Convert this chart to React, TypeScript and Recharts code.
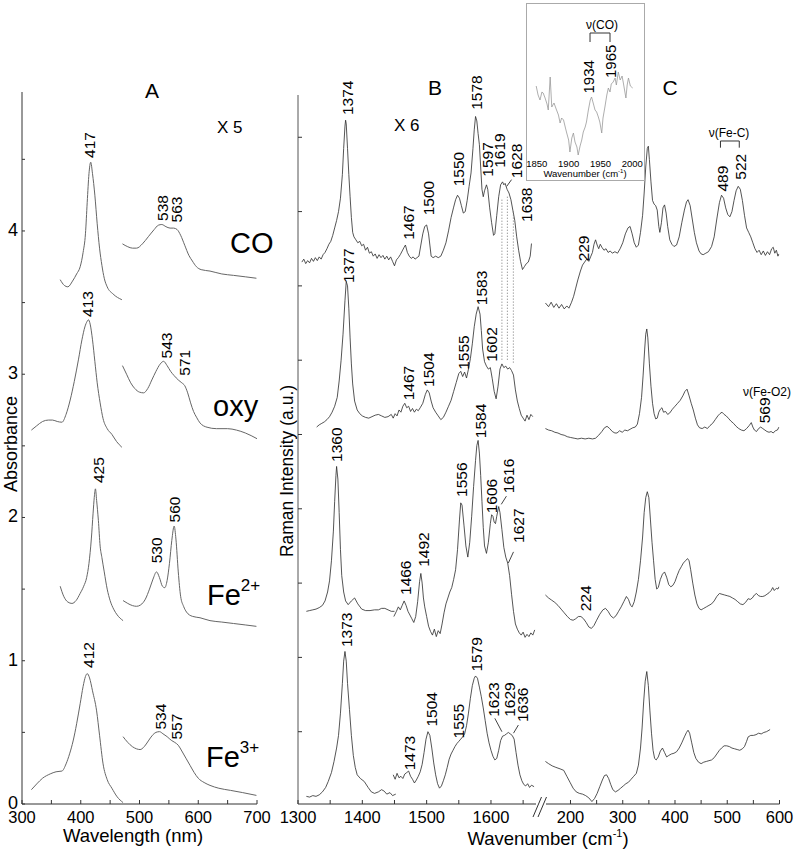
import { LineChart, Line, XAxis, YAxis, ReferenceDot, ReferenceLine } from "recharts";

type Pt = [number, number];
type PeakLabel = [number, number, string];

// ---- Panel A: UV-vis absorbance (Soret band and Q bands x5) ----
const absCoSoret: Pt[] = [[365,3.66],[372,3.62],[378,3.61],[386,3.65],[393,3.70],[399,3.75],[404,3.85],[408,3.98],[411,4.20],[414,4.40],[417,4.48],[420,4.40],[424,4.25],[428,4.05],[432,3.88],[436,3.76],[440,3.67],[445,3.61],[455,3.56],[470,3.52]];
const absCoQ: Pt[] = [[471,3.91],[480,3.89],[488,3.88],[495,3.88],[505,3.91],[515,3.96],[525,4.01],[532,4.04],[538,4.045],[545,4.03],[552,4.02],[558,4.02],[564,4.01],[570,3.97],[577,3.90],[584,3.83],[590,3.79],[597,3.75],[605,3.73],[620,3.72],[640,3.70],[660,3.69],[680,3.68],[699,3.67]];
const absOxySoret: Pt[] = [[316,2.61],[325,2.64],[335,2.67],[345,2.68],[352,2.68],[360,2.67],[368,2.665],[375,2.72],[382,2.82],[389,2.95],[396,3.10],[402,3.24],[407,3.33],[411,3.37],[413,3.38],[416,3.35],[420,3.24],[424,3.09],[428,2.94],[433,2.80],[438,2.69],[445,2.62],[453,2.58],[461,2.53],[470,2.49]];
const absOxyQ: Pt[] = [[471,3.06],[478,3.00],[485,2.94],[492,2.90],[500,2.875],[507,2.87],[514,2.90],[521,2.96],[528,3.02],[535,3.07],[541,3.09],[547,3.06],[553,3.02],[559,2.99],[566,2.96],[572,2.94],[577,2.92],[582,2.87],[587,2.80],[592,2.74],[597,2.70],[603,2.66],[615,2.63],[631,2.62],[650,2.62],[665,2.61],[680,2.59],[700,2.55]];
const absFe2Soret: Pt[] = [[365,1.52],[371,1.45],[378,1.41],[385,1.40],[392,1.42],[399,1.47],[405,1.52],[410,1.58],[414,1.68],[418,1.85],[421,2.03],[423,2.14],[425,2.20],[427,2.12],[430,1.98],[433,1.80],[436,1.72],[440,1.62],[445,1.50],[450,1.42],[456,1.36],[462,1.32],[472,1.28]];
const absFe2Q: Pt[] = [[472,1.42],[480,1.40],[488,1.385],[495,1.38],[502,1.39],[510,1.43],[517,1.50],[523,1.57],[529,1.62],[534,1.58],[539,1.52],[543,1.51],[547,1.56],[551,1.68],[555,1.84],[559,1.94],[562,1.85],[566,1.62],[570,1.45],[575,1.38],[580,1.34],[590,1.31],[603,1.30],[620,1.28],[640,1.27],[660,1.26],[680,1.25],[699,1.24]];
const absFe3Soret: Pt[] = [[316,0.10],[325,0.14],[335,0.18],[348,0.21],[358,0.225],[368,0.23],[375,0.28],[381,0.35],[387,0.44],[393,0.56],[399,0.70],[404,0.82],[408,0.89],[411,0.91],[415,0.88],[420,0.79],[427,0.65],[432,0.48],[438,0.28],[445,0.17],[453,0.11],[462,0.05],[472,0.01]];
const absFe3Q: Pt[] = [[472,0.47],[480,0.43],[488,0.40],[495,0.385],[501,0.38],[508,0.40],[515,0.44],[522,0.48],[528,0.50],[534,0.505],[540,0.49],[547,0.47],[554,0.445],[560,0.43],[566,0.41],[572,0.37],[579,0.32],[586,0.27],[593,0.22],[600,0.18],[610,0.15],[620,0.13],[635,0.11],[655,0.095],[675,0.08],[699,0.06]];

const absPeaks: PeakLabel[] = [
  [415.7,4.51,"417"],[540,4.07,"538"],[563.8,4.06,"563"],
  [412.3,3.40,"413"],[546,3.11,"543"],[577.4,2.99,"571"],
  [430,2.24,"425"],[529,1.68,"530"],[560,1.965,"560"],
  [413,0.95,"412"],[535,0.52,"534"],[563,0.45,"557"],
];
const absTicksX = [300,350,400,450,500,550,600,650,700];
const absLabelsX = [300,400,500,600,700];
const absTicksY = [0,0.5,1,1.5,2,2.5,3,3.5,4,4.5];
const absLabelsY = [0,1,2,3,4];

// ---- Panel B: high-frequency Raman (arbitrary units, stacked) ----
const ramCoHigh: Pt[] = [[1306,7.32],[1309,7.36],[1312,7.30],[1315,7.34],[1318,7.31],[1321,7.37],[1324,7.33],[1327,7.38],[1330,7.34],[1333,7.39],[1336,7.36],[1339,7.42],[1342,7.45],[1345,7.50],[1348,7.56],[1351,7.60],[1354,7.68],[1357,7.78],[1360,7.88],[1363,8.00],[1366,8.18],[1369,8.50],[1371,8.85],[1373,9.15],[1374,9.23],[1375,9.18],[1377,8.85],[1379,8.50],[1381,8.20],[1383,7.92],[1385,7.72],[1387,7.66],[1390,7.62],[1393,7.58],[1396,7.60],[1399,7.54],[1402,7.56],[1405,7.48],[1408,7.52],[1411,7.44],[1414,7.46],[1417,7.40],[1420,7.43],[1423,7.37],[1426,7.42],[1429,7.38],[1432,7.41],[1435,7.36],[1438,7.40],[1441,7.35],[1444,7.39],[1447,7.33],[1450,7.27],[1453,7.35],[1456,7.38],[1459,7.42],[1462,7.47],[1465,7.52],[1467,7.55],[1470,7.45],[1473,7.40],[1476,7.37],[1479,7.39],[1482,7.36],[1485,7.38],[1488,7.40],[1491,7.55],[1494,7.70],[1497,7.80],[1500,7.82],[1503,7.70],[1505,7.55],[1507,7.40],[1510,7.38],[1514,7.40],[1518,7.38],[1522,7.40],[1526,7.48],[1530,7.58],[1534,7.74],[1538,7.92],[1542,8.06],[1545,8.16],[1548,8.22],[1551,8.18],[1554,8.08],[1557,7.98],[1560,8.00],[1563,8.15],[1566,8.34],[1569,8.52],[1572,8.85],[1574,9.10],[1576,9.28],[1578,9.22],[1580,9.05],[1582,8.90],[1584,8.60],[1586,8.30],[1588,8.20],[1590,8.28],[1593,8.36],[1595,8.30],[1598,8.05],[1601,7.85],[1604,7.68],[1606,7.70],[1609,7.95],[1612,8.20],[1615,8.36],[1618,8.40],[1620,8.36],[1622,8.38],[1625,8.30],[1628,8.25],[1631,8.16],[1634,8.02],[1637,7.88],[1640,7.66],[1643,7.48],[1646,7.33],[1649,7.22],[1652,7.26],[1655,7.30],[1658,7.32],[1661,7.40],[1663,7.57]];
const ramOxyHigh: Pt[] = [[1329,5.10],[1333,5.13],[1337,5.15],[1341,5.17],[1345,5.20],[1349,5.24],[1353,5.30],[1357,5.38],[1361,5.50],[1364,5.72],[1367,6.00],[1370,6.35],[1373,6.80],[1375,7.06],[1377,7.00],[1379,6.70],[1381,6.30],[1383,5.95],[1385,5.68],[1388,5.45],[1392,5.33],[1396,5.28],[1400,5.25],[1405,5.23],[1410,5.22],[1415,5.24],[1420,5.26],[1425,5.27],[1430,5.25],[1435,5.23],[1440,5.24],[1445,5.27],[1448,5.22],[1451,5.28],[1454,5.25],[1457,5.33],[1460,5.30],[1463,5.38],[1466,5.42],[1469,5.36],[1472,5.38],[1475,5.31],[1478,5.35],[1481,5.30],[1484,5.34],[1487,5.32],[1490,5.36],[1494,5.42],[1498,5.54],[1501,5.60],[1504,5.56],[1507,5.45],[1510,5.36],[1514,5.30],[1518,5.25],[1522,5.20],[1526,5.23],[1530,5.30],[1534,5.38],[1538,5.46],[1542,5.58],[1546,5.70],[1550,5.82],[1553,5.85],[1556,5.78],[1559,5.84],[1562,5.76],[1565,5.88],[1568,6.02],[1571,6.22],[1574,6.45],[1577,6.62],[1580,6.72],[1583,6.62],[1585,6.40],[1587,6.15],[1590,5.98],[1593,5.92],[1596,5.88],[1599,5.90],[1602,5.75],[1605,5.58],[1608,5.48],[1611,5.65],[1614,5.88],[1617,5.95],[1620,5.90],[1623,5.92],[1626,5.88],[1629,5.90],[1632,5.86],[1635,5.80],[1638,5.60],[1641,5.45],[1644,5.35],[1647,5.26],[1650,5.22],[1653,5.18],[1656,5.26],[1659,5.20],[1662,5.27],[1665,5.24]];
const ramFe2Low: Pt[] = [[1313,2.62],[1318,2.63],[1323,2.64],[1328,2.65],[1333,2.67],[1338,2.70],[1342,2.76],[1346,2.88],[1349,3.03],[1352,3.30],[1355,3.70],[1357,4.10],[1359,4.45],[1360,4.57],[1362,4.40],[1364,3.95],[1366,3.45],[1368,3.10],[1371,2.88],[1374,2.76],[1378,2.71],[1383,2.76],[1388,2.80],[1393,2.72],[1399,2.65],[1405,2.63],[1412,2.63],[1419,2.64],[1425,2.64],[1430,2.66],[1435,2.66],[1440,2.64],[1445,2.62],[1450,2.62]];
const ramFe2High: Pt[] = [[1449,2.55],[1453,2.62],[1456,2.68],[1459,2.64],[1462,2.70],[1465,2.76],[1468,2.70],[1471,2.62],[1474,2.57],[1477,2.52],[1480,2.47],[1483,2.55],[1486,2.75],[1489,3.02],[1491,3.13],[1493,3.00],[1495,2.80],[1497,2.68],[1500,2.55],[1503,2.42],[1506,2.35],[1509,2.30],[1512,2.38],[1515,2.28],[1518,2.36],[1521,2.32],[1524,2.45],[1527,2.60],[1530,2.72],[1533,2.80],[1536,2.88],[1539,2.94],[1542,3.05],[1545,3.18],[1548,3.45],[1551,3.85],[1553,4.08],[1555,4.05],[1558,3.78],[1561,3.50],[1564,3.35],[1567,3.55],[1570,3.90],[1573,4.30],[1576,4.65],[1578,4.85],[1580,4.92],[1582,4.75],[1584,4.45],[1586,4.10],[1588,3.75],[1590,3.50],[1593,3.40],[1596,3.55],[1599,3.80],[1601,3.92],[1603,3.90],[1605,3.82],[1607,3.80],[1609,3.90],[1612,4.03],[1614,3.95],[1617,3.72],[1620,3.48],[1623,3.35],[1626,3.27],[1629,3.10],[1632,2.85],[1635,2.62],[1638,2.45],[1641,2.38],[1644,2.33],[1647,2.30],[1650,2.34],[1653,2.27],[1656,2.31],[1659,2.28],[1662,2.33],[1665,2.30],[1668,2.37]];
const ramFe3Low: Pt[] = [[1313,0.13],[1318,0.12],[1323,0.14],[1328,0.13],[1333,0.15],[1338,0.19],[1343,0.25],[1347,0.33],[1352,0.45],[1356,0.60],[1360,0.78],[1363,0.95],[1366,1.25],[1369,1.65],[1371,1.95],[1373,2.08],[1375,1.95],[1377,1.65],[1380,1.30],[1383,0.95],[1386,0.68],[1389,0.52],[1392,0.42],[1397,0.37],[1403,0.33],[1409,0.25],[1414,0.19],[1419,0.17],[1425,0.19],[1430,0.22],[1434,0.20],[1438,0.16],[1443,0.18],[1447,0.14],[1452,0.16]];
const ramFe3High: Pt[] = [[1448,0.42],[1451,0.36],[1454,0.44],[1457,0.38],[1460,0.40],[1463,0.37],[1466,0.43],[1469,0.45],[1472,0.47],[1475,0.40],[1478,0.36],[1481,0.31],[1484,0.35],[1487,0.40],[1490,0.46],[1493,0.56],[1496,0.72],[1499,0.90],[1502,1.00],[1505,0.95],[1508,0.78],[1511,0.58],[1514,0.42],[1517,0.30],[1520,0.24],[1523,0.27],[1526,0.34],[1529,0.42],[1532,0.52],[1535,0.63],[1538,0.70],[1541,0.75],[1544,0.80],[1547,0.84],[1550,0.87],[1553,0.90],[1556,0.93],[1559,0.97],[1562,1.08],[1565,1.25],[1568,1.45],[1571,1.62],[1574,1.72],[1576,1.75],[1579,1.72],[1582,1.60],[1585,1.47],[1588,1.32],[1591,1.15],[1594,0.98],[1597,0.85],[1600,0.75],[1603,0.67],[1606,0.62],[1609,0.64],[1612,0.75],[1615,0.88],[1618,0.94],[1621,0.95],[1624,0.97],[1627,0.99],[1630,0.97],[1633,0.95],[1636,0.90],[1639,0.72],[1642,0.55],[1645,0.42],[1648,0.34],[1651,0.29],[1654,0.27],[1657,0.30],[1660,0.25],[1663,0.28],[1667,0.26]];

const ramHighPeaks: PeakLabel[] = [
  [1377,9.30,"1374"],[1471.5,7.62,"1467"],[1502.6,7.95,"1500"],[1549,8.34,"1550"],[1578,9.37,"1578"],[1595,8.47,"1597"],[1614,8.59,"1619"],[1640,8.45,"1628"],[1655.7,7.86,"1638"],
  [1378,7.04,"1377"],[1471.5,5.46,"1467"],[1502.6,5.64,"1504"],[1557,5.87,"1555"],[1585.7,6.74,"1583"],[1601,5.98,"1602"],
  [1360,4.63,"1360"],[1466.4,2.84,"1466"],[1495,3.22,"1492"],[1554.6,4.16,"1556"],[1583,4.95,"1584"],[1601,3.94,"1606"],[1627,4.21,"1616"],[1642.6,3.54,"1627"],
  [1375.7,2.14,"1373"],[1474,0.48,"1473"],[1508,1.07,"1504"],[1549,0.91,"1555"],[1578,1.81,"1579"],[1603.7,1.20,"1623"],[1628.6,1.20,"1629"],[1649.4,1.13,"1636"],
];
const ramHighTicksX = [1300,1350,1400,1450,1500,1550,1600,1650];
const ramHighLabelsX = [1300,1400,1500,1600];
const ramTicksY = [1,2,3,4,5,6,7,8,9];

// ---- Panel C: low-frequency Raman ----
const ramCoLow: Pt[] = [[152,6.77],[158,6.72],[163,6.78],[168,6.71],[173,6.76],[178,6.70],[183,6.75],[188,6.69],[193,6.73],[197,6.70],[202,6.78],[206,6.86],[210,6.97],[214,7.08],[219,7.20],[223,7.28],[227,7.32],[231,7.36],[235,7.33],[239,7.40],[242,7.45],[245,7.56],[248,7.62],[251,7.55],[254,7.50],[257,7.56],[260,7.52],[264,7.48],[268,7.50],[272,7.45],[276,7.47],[280,7.44],[285,7.46],[290,7.44],[295,7.50],[300,7.58],[305,7.70],[310,7.78],[314,7.80],[318,7.70],[322,7.58],[326,7.52],[330,7.55],[334,7.72],[338,7.95],[341,8.25],[344,8.60],[347,8.85],[349,8.88],[351,8.70],[354,8.40],[357,8.15],[360,8.10],[363,8.08],[366,8.02],[369,7.80],[371,7.72],[374,7.85],[377,8.05],[380,8.09],[383,7.98],[386,7.80],[390,7.62],[394,7.56],[398,7.53],[403,7.55],[408,7.66],[413,7.85],[418,8.02],[422,8.13],[425,8.16],[429,8.08],[433,7.90],[437,7.72],[441,7.58],[446,7.47],[450,7.43],[454,7.42],[459,7.44],[464,7.46],[470,7.53],[475,7.66],[480,7.90],[485,8.12],[489,8.22],[493,8.18],[497,8.05],[501,7.96],[505,7.93],[509,8.00],[513,8.15],[517,8.28],[521,8.34],[525,8.30],[529,8.15],[533,7.95],[537,7.78],[541,7.72],[545,7.66],[549,7.58],[553,7.50],[557,7.45],[561,7.48],[565,7.42],[569,7.47],[573,7.41],[577,7.46],[581,7.42],[585,7.50],[588,7.52],[591,7.44],[594,7.48],[597,7.40],[599,7.43]];
const ramOxyLow: Pt[] = [[152,5.08],[158,5.06],[164,5.05],[170,5.03],[176,5.02],[182,5.00],[188,4.99],[194,4.97],[200,4.96],[207,4.95],[214,4.94],[221,4.95],[228,4.94],[235,4.95],[242,4.94],[248,4.95],[254,4.99],[260,5.04],[265,5.09],[270,5.11],[275,5.08],[280,5.04],[285,5.02],[289,5.02],[294,5.05],[299,5.03],[304,5.06],[309,5.05],[314,5.07],[319,5.09],[324,5.10],[328,5.14],[332,5.28],[336,5.50],[339,5.80],[342,6.15],[344,6.35],[346,6.42],[348,6.30],[351,5.95],[354,5.65],[357,5.42],[360,5.28],[363,5.21],[366,5.22],[369,5.30],[372,5.34],[375,5.36],[378,5.30],[382,5.31],[386,5.27],[390,5.29],[395,5.34],[400,5.38],[405,5.42],[410,5.46],[415,5.52],[419,5.58],[423,5.61],[427,5.52],[431,5.42],[435,5.33],[439,5.22],[443,5.13],[447,5.09],[452,5.08],[457,5.10],[462,5.08],[467,5.12],[472,5.15],[477,5.20],[482,5.25],[486,5.28],[490,5.30],[494,5.27],[498,5.25],[502,5.22],[507,5.18],[512,5.15],[517,5.11],[522,5.08],[527,5.06],[532,5.05],[537,5.08],[542,5.12],[546,5.16],[549,5.10],[552,5.06],[556,5.04],[560,5.08],[564,5.10],[568,5.08],[572,5.06],[576,5.04],[580,5.03],[584,5.04],[588,5.02],[592,5.05],[596,5.06],[599,5.10]];
const ramFe2Lf: Pt[] = [[152,2.84],[158,2.80],[164,2.77],[170,2.74],[176,2.70],[182,2.65],[188,2.60],[194,2.55],[200,2.51],[205,2.50],[210,2.52],[215,2.55],[220,2.55],[225,2.52],[230,2.47],[235,2.41],[240,2.39],[245,2.43],[250,2.50],[256,2.58],[262,2.64],[267,2.66],[272,2.62],[277,2.56],[282,2.53],[287,2.56],[292,2.62],[297,2.68],[302,2.75],[307,2.82],[311,2.78],[315,2.70],[318,2.68],[322,2.75],[326,2.88],[330,3.05],[334,3.30],[338,3.62],[341,3.95],[344,4.15],[347,4.23],[350,4.15],[353,3.85],[356,3.55],[359,3.30],[362,3.05],[365,2.92],[368,2.94],[372,3.05],[376,3.12],[380,3.15],[384,3.08],[388,2.98],[392,2.95],[396,2.97],[400,3.02],[404,3.10],[408,3.17],[412,3.22],[416,3.27],[420,3.30],[424,3.33],[427,3.30],[430,3.18],[434,3.00],[438,2.84],[442,2.72],[446,2.66],[450,2.64],[455,2.66],[460,2.68],[465,2.70],[470,2.72],[475,2.76],[480,2.82],[485,2.86],[490,2.85],[495,2.84],[500,2.83],[505,2.82],[510,2.80],[515,2.78],[520,2.75],[525,2.72],[530,2.71],[535,2.74],[540,2.79],[544,2.78],[548,2.80],[552,2.84],[556,2.86],[560,2.83],[564,2.82],[568,2.82],[572,2.83],[576,2.85],[580,2.87],[584,2.90],[587,2.94],[590,2.90],[594,2.93],[597,2.92],[599,2.95]];
const ramFe3Lf: Pt[] = [[152,0.60],[158,0.57],[165,0.54],[172,0.52],[180,0.50],[187,0.48],[193,0.40],[199,0.32],[205,0.24],[211,0.19],[217,0.17],[223,0.16],[229,0.14],[235,0.11],[241,0.06],[246,0.10],[251,0.17],[256,0.26],[261,0.35],[265,0.41],[269,0.42],[273,0.37],[277,0.29],[281,0.22],[286,0.19],[291,0.21],[296,0.24],[301,0.27],[306,0.30],[311,0.32],[316,0.36],[321,0.40],[326,0.44],[330,0.55],[334,0.78],[337,1.05],[340,1.40],[343,1.68],[346,1.81],[349,1.62],[352,1.28],[355,0.98],[358,0.75],[361,0.64],[364,0.62],[368,0.66],[372,0.74],[376,0.78],[380,0.72],[384,0.66],[388,0.68],[393,0.70],[398,0.71],[403,0.73],[408,0.78],[413,0.85],[418,0.93],[422,0.99],[425,1.02],[428,0.98],[432,0.85],[436,0.72],[440,0.64],[445,0.59],[450,0.57],[455,0.59],[460,0.60],[465,0.61],[470,0.62],[475,0.65],[480,0.70],[485,0.75],[489,0.78],[494,0.81],[499,0.81],[504,0.80],[509,0.78],[514,0.77],[519,0.76],[524,0.75],[529,0.77],[533,0.80],[537,0.87],[540,0.93],[545,0.95],[550,0.95],[555,0.96],[560,0.98],[565,0.97],[570,0.99],[575,1.00],[580,1.02],[582,1.03]];

const ramLowPeaks: PeakLabel[] = [
  [224.5,7.33,"229"],[491,8.27,"489"],[525.7,8.43,"522"],[572,5.15,"569"],[227.8,2.62,"224"],
];
const ramLowTicksX = [200,250,300,350,400,450,500,550,600];
const ramLowLabelsX = [200,300,400,500,600];

// ---- Inset: nu(CO) region ----
const insetCo: Pt[] = [[1849,69],[1852,60],[1855,55],[1858,63],[1860,62],[1863,57],[1866,51],[1868,45],[1871,78],[1873.5,48],[1877,52],[1881,45],[1884,40],[1886.6,32],[1889,37],[1892,35],[1895,27],[1897,22],[1900,15],[1902,3],[1905,17],[1907.5,22],[1910,13],[1913,8],[1915,0],[1918,9],[1920.6,15],[1923,23],[1926,28],[1928,33],[1931,45],[1934,55],[1936,58],[1939,51],[1941.5,45],[1944,43],[1946.7,38],[1949,33],[1952,22],[1954,37],[1957,48],[1960,60],[1962.4,67],[1965,63],[1967,71],[1970,73],[1973,77],[1975,70],[1978,83],[1981,75],[1984,79],[1986,72],[1990,57],[1992,70],[1994,77],[1997,69],[2000.7,67]];
const insetPeaks: PeakLabel[] = [[1931,61.5,"1934"],[1965,77,"1965"]];
const insetTicksX = [1850,1900,1950,2000];

const rows = (arr: Pt[]) => arr.map(([x, y]) => ({ x, y }));

const FONT = '"Liberation Sans", Arial, sans-serif';

function bottomTick(labels: number[], fontSize: number, dy: number, len: number) {
  return (p: any) => {
    const v = p.payload.value;
    return (
      <g>
        {len > 0 && <line x1={p.x} y1={p.y} x2={p.x} y2={p.y - len} stroke="#333" strokeWidth={1} />}
        {labels.includes(v) && (
          <text x={p.x} y={p.y + dy} textAnchor="middle" fontSize={fontSize} fill="#000" fontFamily={FONT}>
            {v}
          </text>
        )}
      </g>
    );
  };
}

function leftTick(labels: number[], fontSize: number, len: number) {
  return (p: any) => {
    const v = p.payload.value;
    return (
      <g>
        <line x1={p.x} y1={p.y} x2={p.x + len} y2={p.y} stroke="#333" strokeWidth={1} />
        {labels.includes(v) && (
          <text x={p.x - 4} y={p.y + 5} textAnchor="end" fontSize={fontSize} fill="#000" fontFamily={FONT}>
            {v}
          </text>
        )}
      </g>
    );
  };
}

const rotLabel = (text: string, size = 15.5) => (p: any) => (
  <text
    x={p.cx}
    y={p.cy}
    transform={`rotate(-90 ${p.cx} ${p.cy})`}
    fontSize={size}
    textAnchor="start"
    dominantBaseline="central"
    fill="#000"
    fontFamily={FONT}
  >
    {text}
  </text>
);

const abs: React.CSSProperties = { position: "absolute", left: 0, top: 0 };

export default function App() {
  const absLine = { stroke: "#666", strokeWidth: 1, dot: false, isAnimationActive: false, type: "monotone" as const };
  const ramLine = { stroke: "#2a2a2a", strokeWidth: 0.8, dot: false, isAnimationActive: false, type: "linear" as const };

  return (
    <div style={{ position: "absolute", left: 0, top: 0, width: 797, height: 858, background: "#fff", fontFamily: FONT }}>
      {/* Panel A */}
      <div style={abs}>
        <LineChart width={797} height={858} margin={{ top: 92, right: 540, bottom: 0, left: 0 }}>
          <XAxis
            type="number"
            dataKey="x"
            domain={[300, 700]}
            ticks={absTicksX}
            interval={0}
            allowDataOverflow
            height={54}
            tickSize={0}
            tickMargin={0}
            tickLine={false}
            axisLine={{ stroke: "#333" }}
            tick={bottomTick(absLabelsX, 16.5, 19, 4)}
          />
          <YAxis
            type="number"
            domain={[0, 4.97]}
            ticks={absTicksY}
            interval={0}
            allowDataOverflow
            width={22}
            tickSize={0}
            tickMargin={0}
            tickLine={false}
            axisLine={{ stroke: "#333" }}
            tick={leftTick(absLabelsY, 18, 3)}
          />
          <Line data={rows(absCoSoret)} dataKey="y" {...absLine} />
          <Line data={rows(absCoQ)} dataKey="y" {...absLine} />
          <Line data={rows(absOxySoret)} dataKey="y" {...absLine} />
          <Line data={rows(absOxyQ)} dataKey="y" {...absLine} />
          <Line data={rows(absFe2Soret)} dataKey="y" {...absLine} />
          <Line data={rows(absFe2Q)} dataKey="y" {...absLine} />
          <Line data={rows(absFe3Soret)} dataKey="y" {...absLine} />
          <Line data={rows(absFe3Q)} dataKey="y" {...absLine} />
          {absPeaks.map(([x, y, t], i) => (
            <ReferenceDot key={i} x={x} y={y} r={0} ifOverflow="visible" shape={rotLabel(t)} />
          ))}
        </LineChart>
      </div>

      {/* Panel B */}
      <div style={abs}>
        <LineChart width={797} height={858} margin={{ top: 95, right: 261, bottom: 0, left: 0 }}>
          <XAxis
            type="number"
            dataKey="x"
            domain={[1300, 1670]}
            ticks={ramHighTicksX}
            interval={0}
            allowDataOverflow
            height={54}
            tickSize={0}
            tickMargin={0}
            tickLine={false}
            axisLine={{ stroke: "#333" }}
            tick={bottomTick(ramHighLabelsX, 16.5, 19, 4)}
          />
          <YAxis
            type="number"
            domain={[0.027, 9.569]}
            ticks={ramTicksY}
            interval={0}
            allowDataOverflow
            width={298}
            tickSize={0}
            tickMargin={0}
            tickLine={false}
            axisLine={{ stroke: "#555" }}
            tick={leftTick([], 12, 4)}
          />
          <Line data={rows(ramCoHigh)} dataKey="y" {...ramLine} />
          <Line data={rows(ramOxyHigh)} dataKey="y" {...ramLine} />
          <Line data={rows(ramFe2Low)} dataKey="y" {...ramLine} />
          <Line data={rows(ramFe2High)} dataKey="y" {...ramLine} />
          <Line data={rows(ramFe3Low)} dataKey="y" {...ramLine} />
          <Line data={rows(ramFe3High)} dataKey="y" {...ramLine} />
          <ReferenceLine segment={[{ x: 1617, y: 8.16 }, { x: 1617, y: 5.98 }]} stroke="#777" strokeDasharray="1 2" ifOverflow="visible" />
          <ReferenceLine segment={[{ x: 1625.5, y: 8.2 }, { x: 1625.5, y: 5.98 }]} stroke="#777" strokeDasharray="1 2" ifOverflow="visible" />
          <ReferenceLine segment={[{ x: 1634.8, y: 8.0 }, { x: 1634.8, y: 5.95 }]} stroke="#777" strokeDasharray="1 2" ifOverflow="visible" />
          <ReferenceLine segment={[{ x: 1632, y: 8.43 }, { x: 1624.5, y: 8.34 }]} stroke="#444" ifOverflow="visible" />
          <ReferenceLine segment={[{ x: 1624, y: 4.17 }, { x: 1616, y: 4.06 }]} stroke="#444" ifOverflow="visible" />
          <ReferenceLine segment={[{ x: 1635, y: 3.42 }, { x: 1627, y: 3.27 }]} stroke="#444" ifOverflow="visible" />
          <ReferenceLine segment={[{ x: 1606, y: 1.18 }, { x: 1617, y: 1.0 }]} stroke="#444" ifOverflow="visible" />
          <ReferenceLine segment={[{ x: 1642.6, y: 1.09 }, { x: 1635, y: 0.98 }]} stroke="#444" ifOverflow="visible" />
          {ramHighPeaks.map(([x, y, t], i) => (
            <ReferenceDot key={i} x={x} y={y} r={0} ifOverflow="visible" shape={rotLabel(t)} />
          ))}
        </LineChart>
      </div>

      {/* Panel C */}
      <div style={abs}>
        <LineChart width={797} height={858} margin={{ top: 95, right: 17.5, bottom: 0, left: 545 }}>
          <XAxis
            type="number"
            dataKey="x"
            domain={[151.2, 600]}
            ticks={ramLowTicksX}
            interval={0}
            allowDataOverflow
            height={54}
            tickSize={0}
            tickMargin={0}
            tickLine={false}
            axisLine={{ stroke: "#333" }}
            tick={bottomTick(ramLowLabelsX, 16.5, 19, 4)}
          />
          <YAxis hide type="number" domain={[0.027, 9.569]} allowDataOverflow />
          <Line data={rows(ramCoLow)} dataKey="y" {...ramLine} />
          <Line data={rows(ramOxyLow)} dataKey="y" {...ramLine} />
          <Line data={rows(ramFe2Lf)} dataKey="y" {...ramLine} />
          <Line data={rows(ramFe3Lf)} dataKey="y" {...ramLine} />
          <ReferenceLine segment={[{ x: 487, y: 8.86 }, { x: 487, y: 8.95 }]} stroke="#333" ifOverflow="visible" />
          <ReferenceLine segment={[{ x: 487, y: 8.95 }, { x: 523, y: 8.95 }]} stroke="#333" ifOverflow="visible" />
          <ReferenceLine segment={[{ x: 523, y: 8.95 }, { x: 523, y: 8.86 }]} stroke="#333" ifOverflow="visible" />
          {ramLowPeaks.map(([x, y, t], i) => (
            <ReferenceDot key={i} x={x} y={y} r={0} ifOverflow="visible" shape={rotLabel(t)} />
          ))}
        </LineChart>
      </div>

      {/* Inset */}
      <div style={{ position: "absolute", left: 526, top: 3, width: 119, height: 178, background: "#fff", border: "1px solid #aaa", boxSizing: "border-box" }}>
        <div style={{ position: "absolute", left: -1, top: -1 }}>
          <LineChart width={119} height={178} margin={{ top: 0, right: 0, bottom: 0, left: 0 }}>
            <XAxis
              type="number"
              dataKey="x"
              domain={[1833, 2020]}
              ticks={insetTicksX}
              interval={0}
              allowDataOverflow
              height={26}
              tickSize={0}
              tickMargin={0}
              tickLine={false}
              axisLine={false}
              tick={bottomTick(insetTicksX, 9.5, 11.5, 0)}
            />
            <YAxis hide type="number" domain={[0, 152]} allowDataOverflow />
            <Line data={rows(insetCo)} dataKey="y" stroke="#999" strokeWidth={0.8} dot={false} isAnimationActive={false} type="linear" />
            <ReferenceLine segment={[{ x: 1933.6, y: 113 }, { x: 1933.6, y: 122 }]} stroke="#333" ifOverflow="visible" />
            <ReferenceLine segment={[{ x: 1933.6, y: 122 }, { x: 1965, y: 122 }]} stroke="#333" ifOverflow="visible" />
            <ReferenceLine segment={[{ x: 1965, y: 122 }, { x: 1965, y: 113 }]} stroke="#333" ifOverflow="visible" />
            {insetPeaks.map(([x, y, t], i) => (
              <ReferenceDot key={i} x={x} y={y} r={0} ifOverflow="visible" shape={rotLabel(t, 15)} />
            ))}
          </LineChart>
        </div>
      </div>

      {/* Text annotations and axis break */}
      <svg width={797} height={858} style={{ ...abs, pointerEvents: "none" }} fontFamily={FONT}>
        <text x={152} y={98} fontSize={21} textAnchor="middle">A</text>
        <text x={435} y={95} fontSize={21} textAnchor="middle">B</text>
        <text x={670} y={95} fontSize={21} textAnchor="middle">C</text>
        <text x={217} y={133} fontSize={17}>X 5</text>
        <text x={394} y={131} fontSize={17}>X 6</text>
        <text x={230} y={253} fontSize={29}>CO</text>
        <text x={213} y={416} fontSize={29}>oxy</text>
        <text x={207} y={605} fontSize={29}>Fe<tspan dy={-14} fontSize={17}>2+</tspan></text>
        <text x={206} y={767} fontSize={29}>Fe<tspan dy={-14} fontSize={17}>3+</tspan></text>
        <text x={729} y={137} fontSize={12} textAnchor="middle">ν(Fe-C)</text>
        <text x={743} y={396} fontSize={12}>ν(Fe-O2)</text>
        <text x={602} y={29} fontSize={12} textAnchor="middle">ν(CO)</text>
        <text x={585} y={177} fontSize={9.5} textAnchor="middle">Wavenumber (cm<tspan dy={-4} fontSize={6}>-1</tspan><tspan dy={4}>)</tspan></text>
        <text x={133} y={842} fontSize={18.5} textAnchor="middle">Wavelength (nm)</text>
        <text x={548} y={845} fontSize={18.5} textAnchor="middle">Wavenumber (cm<tspan dy={-8} fontSize={11}>-1</tspan><tspan dy={8}>)</tspan></text>
        <text x={17} y={444} fontSize={18} textAnchor="middle" transform="rotate(-90 17 444)">Absorbance</text>
        <text x={293} y={471} fontSize={17.5} textAnchor="middle" transform="rotate(-90 293 471)">Raman Intensity (a.u.)</text>
        <rect x={537} y={796} width={9} height={16} fill="#fff" />
        <line x1={533} y1={817} x2={541.5} y2={797} stroke="#333" />
        <line x1={538} y1={817} x2={546.5} y2={797} stroke="#333" />
      </svg>
    </div>
  );
}
